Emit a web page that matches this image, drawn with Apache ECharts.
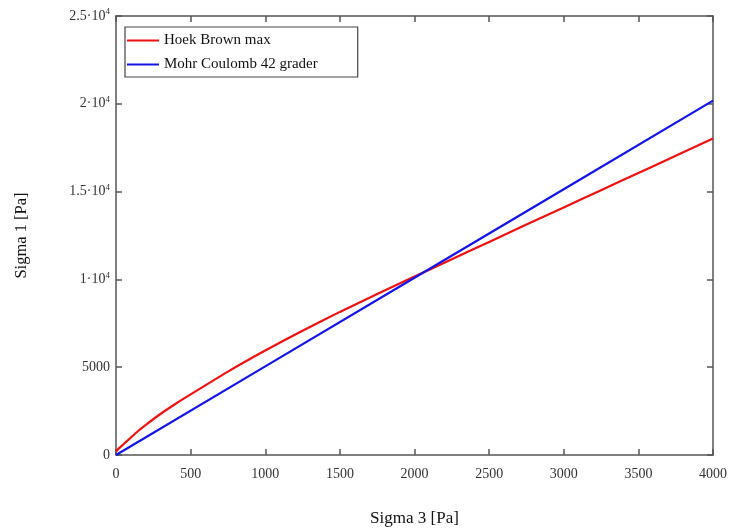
<!DOCTYPE html>
<html>
<head>
<meta charset="utf-8">
<script src="https://cdn.jsdelivr.net/npm/echarts@6/dist/echarts.min.js"></script>
<style>html,body{margin:0;padding:0;background:#fff}#c{width:729px;height:528px}</style>
</head>
<body>
<div id="c"></div>
<script>
const sigma3HB = [0, 25, 50, 100, 150, 200, 300, 400, 500, 750, 1000, 1250, 1500, 1750, 2000, 2250, 2500, 2750, 3000, 3250, 3500, 3750, 4000];
const sigma1HB = [200, 420, 610, 1000, 1380, 1720, 2350, 2920, 3450, 4750, 5950, 7080, 8150, 9170, 10160, 11150, 12135, 13120, 14100, 15080, 16060, 17040, 18020];
const sigma3MC = [0, 1000, 2000, 3000, 4000];
const sigma1MC = [0, 5045, 10090, 15130, 20180];
const seriesNames = ['Hoek Brown max', 'Mohr Coulomb 42 grader'];
const yTickLabels = {0: '0', 5000: '5000', 10000: '{a|1·10}{s|4}', 15000: '{a|1.5·10}{s|4}', 20000: '{a|2·10}{s|4}', 25000: '{a|2.5·10}{s|4}'};

const font = 'Liberation Serif, Times New Roman, serif';
const axisCol = '#555';
const chart = echarts.init(document.getElementById('c'));
const pair = (xs, ys) => xs.map((x, i) => [x, ys[i]]);
const baseX = {
  type: 'value', min: 0, max: 4000, interval: 500,
  axisLine: {show: true, onZero: false, lineStyle: {color: axisCol, width: 1.5}},
  axisTick: {show: true, inside: true, length: 6, lineStyle: {color: axisCol, width: 1.5}},
  splitLine: {show: false}
};
const baseY = {
  type: 'value', min: 0, max: 25000, interval: 5000,
  axisLine: {show: true, onZero: false, lineStyle: {color: axisCol, width: 1.5}},
  axisTick: {show: true, inside: true, length: 6, lineStyle: {color: axisCol, width: 1.5}},
  splitLine: {show: false}
};
chart.setOption({
  animation: false,
  backgroundColor: '#fff',
  grid: {left: 116, right: 16, top: 16, bottom: 73, containLabel: false, outerBoundsMode: 'none'},
  legend: {
    orient: 'vertical', left: 125, top: 27,
    icon: 'rect', itemWidth: 32, itemHeight: 2, itemGap: 9,
    padding: [6, 40, 5, 2],
    borderColor: '#444', borderWidth: 1.2,
    textStyle: {fontFamily: font, fontSize: 15, color: '#111'},
    data: seriesNames
  },
  xAxis: [
    Object.assign({}, baseX, {
      position: 'bottom',
      name: 'Sigma 3 [Pa]', nameLocation: 'middle', nameGap: 55,
      nameTextStyle: {fontFamily: font, fontSize: 17, color: '#111'},
      axisLabel: {fontFamily: font, fontSize: 14, color: '#333', margin: 12, formatter: v => String(v)}
    }),
    Object.assign({}, baseX, {position: 'top', axisLabel: {show: false}})
  ],
  yAxis: [
    Object.assign({}, baseY, {
      position: 'left',
      name: 'Sigma 1 [Pa]', nameLocation: 'middle', nameGap: 86,
      nameTextStyle: {fontFamily: font, fontSize: 16.5, color: '#111'},
      axisLabel: {
        fontFamily: font, fontSize: 14, color: '#333', margin: 6,
        formatter: v => yTickLabels[v] !== undefined ? yTickLabels[v] : String(v),
        rich: {
          a: {fontFamily: font, fontSize: 14, color: '#333'},
          s: {fontFamily: font, fontSize: 9, color: '#333', padding: [0, 0, 8, 0]}
        }
      }
    }),
    Object.assign({}, baseY, {position: 'right', axisLabel: {show: false}})
  ],
  series: [
    {
      name: seriesNames[0], type: 'line', xAxisIndex: 0, yAxisIndex: 0,
      data: pair(sigma3HB, sigma1HB), smooth: 0.2, showSymbol: false, symbol: 'none',
      lineStyle: {color: '#ee1111', width: 2.2}, itemStyle: {color: '#ee1111'}
    },
    {
      name: seriesNames[1], type: 'line', xAxisIndex: 0, yAxisIndex: 0,
      data: pair(sigma3MC, sigma1MC), showSymbol: false, symbol: 'none',
      lineStyle: {color: '#1414e6', width: 2.2}, itemStyle: {color: '#1414e6'}
    }
  ]
});
</script>
</body>
</html>
